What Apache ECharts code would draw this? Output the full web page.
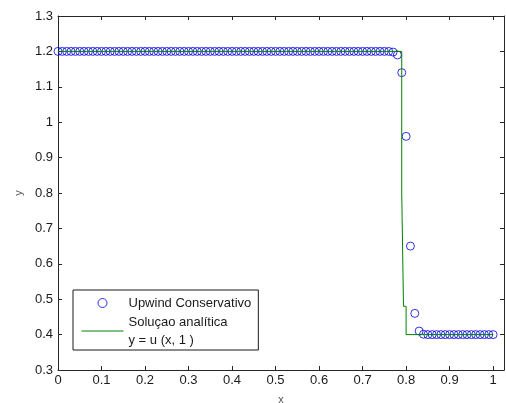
<!DOCTYPE html>
<html>
<head>
<meta charset="utf-8">
<script src="https://cdn.jsdelivr.net/npm/echarts@6/dist/echarts.min.js"></script>
<style>
  html, body { margin: 0; padding: 0; background: #fff; }
  #chart { width: 506px; height: 403px; }
</style>
</head>
<body>
<div id="chart"></div>
<script>
// Upwind conservative scheme vs analytic solution at t = 1.

const upwindX = [
  0, 0.01, 0.02, 0.03, 0.04, 0.05, 0.06, 0.07, 0.08, 0.09,
  0.1, 0.11, 0.12, 0.13, 0.14, 0.15, 0.16, 0.17, 0.18, 0.19,
  0.2, 0.21, 0.22, 0.23, 0.24, 0.25, 0.26, 0.27, 0.28, 0.29,
  0.3, 0.31, 0.32, 0.33, 0.34, 0.35, 0.36, 0.37, 0.38, 0.39,
  0.4, 0.41, 0.42, 0.43, 0.44, 0.45, 0.46, 0.47, 0.48, 0.49,
  0.5, 0.51, 0.52, 0.53, 0.54, 0.55, 0.56, 0.57, 0.58, 0.59,
  0.6, 0.61, 0.62, 0.63, 0.64, 0.65, 0.66, 0.67, 0.68, 0.69,
  0.7, 0.71, 0.72, 0.73, 0.74, 0.75, 0.76, 0.77, 0.78, 0.79,
  0.8, 0.81, 0.82, 0.83, 0.84, 0.85, 0.86, 0.87, 0.88, 0.89,
  0.9, 0.91, 0.92, 0.93, 0.94, 0.95, 0.96, 0.97, 0.98, 0.99,
  1
];
const upwindY = [
  1.2, 1.2, 1.2, 1.2, 1.2, 1.2, 1.2, 1.2, 1.2, 1.2,
  1.2, 1.2, 1.2, 1.2, 1.2, 1.2, 1.2, 1.2, 1.2, 1.2,
  1.2, 1.2, 1.2, 1.2, 1.2, 1.2, 1.2, 1.2, 1.2, 1.2,
  1.2, 1.2, 1.2, 1.2, 1.2, 1.2, 1.2, 1.2, 1.2, 1.2,
  1.2, 1.2, 1.2, 1.2, 1.2, 1.2, 1.2, 1.2, 1.2, 1.2,
  1.2, 1.2, 1.2, 1.2, 1.2, 1.2, 1.2, 1.2, 1.2, 1.2,
  1.2, 1.2, 1.2, 1.2, 1.2, 1.2, 1.2, 1.2, 1.2, 1.2,
  1.2, 1.2, 1.2, 1.2, 1.2, 1.2, 1.2, 1.198, 1.19, 1.14,
  0.96, 0.65, 0.46, 0.41, 0.401, 0.4, 0.4, 0.4, 0.4, 0.4,
  0.4, 0.4, 0.4, 0.4, 0.4, 0.4, 0.4, 0.4, 0.4, 0.4,
  0.4
];

const exactX = [0, 0.79, 0.79, 0.794, 0.794, 0.8, 0.8, 1];
const exactY = [1.2, 1.2, 0.8, 0.8, 0.48, 0.48, 0.4, 0.4];

const xTicks = [0, 1.025, 0.1];   // min, max, interval
const yTicks = [0.3, 1.3, 0.1];

const upwindName = 'Upwind Conservativo';
const exactName = 'Soluçao analítica';
const exactSubtitle = 'y = u (x, 1 )';

const font = 'Liberation Sans, Arial, sans-serif';
const axisColor = '#262626';
const blue = '#0000dd';
const green = '#008000';

function pairs(xs, ys) {
  return xs.map((x, i) => [x, ys[i]]);
}

function boxAxis(ticks, position, showLabels) {
  // MATLAB-style box: all four sides get inward ticks, labels only bottom/left.
  return {
    type: 'value',
    position,
    min: ticks[0],
    max: ticks[1],
    interval: ticks[2],
    splitLine: { show: false },
    axisLine: { show: true, onZero: false, lineStyle: { color: axisColor, width: 1 } },
    axisTick: { show: true, inside: true, length: 4, lineStyle: { color: axisColor } },
    axisLabel: {
      show: showLabels,
      showMaxLabel: ticks[1] !== 1.025,
      color: '#1a1a1a',
      fontFamily: font,
      fontSize: 13,
      margin: 5,
    },
  };
}

const chart = echarts.init(document.getElementById('chart'), null, { renderer: 'canvas' });

const xBottom = Object.assign(boxAxis(xTicks, 'bottom', true), {
  name: 'x',
  nameLocation: 'middle',
  nameGap: 24,
  nameTextStyle: { color: '#555', fontFamily: font, fontSize: 11 },
});
xBottom.axisLabel.margin = 4;
const yLeft = Object.assign(boxAxis(yTicks, 'left', true), {
  name: 'y',
  nameLocation: 'middle',
  nameGap: 32,
  nameRotate: 90,
  nameTextStyle: { color: '#555', fontFamily: font, fontSize: 11 },
});

chart.setOption({
  backgroundColor: '#ffffff',
  animation: false,
  grid: { left: 58, top: 16, right: 2, bottom: 33, containLabel: false, outerBoundsMode: 'none' },
  xAxis: [xBottom, boxAxis(xTicks, 'top', false)],
  yAxis: [yLeft, boxAxis(yTicks, 'right', false)],
  legend: {
    orient: 'vertical',
    left: 73,
    top: 290,
    itemWidth: 42,
    itemHeight: 9,
    itemGap: 1,
    padding: [4, 7, 1, 8],
    backgroundColor: '#ffffff',
    borderColor: '#1a1a1a',
    borderWidth: 1,
    borderRadius: 0,
    selectedMode: false,
    data: [
      { name: upwindName, itemStyle: { borderWidth: 1, borderColor: blue } },
      { name: exactName, itemStyle: { opacity: 0 }, lineStyle: { width: 1, color: green } },
    ],
    formatter: (name) => (name === exactName ? name + '\n' + exactSubtitle : name),
    textStyle: {
      color: '#1a1a1a',
      fontFamily: font,
      fontSize: 13,
      lineHeight: 18,
    },
  },
  series: [
    {
      name: upwindName,
      type: 'scatter',
      data: pairs(upwindX, upwindY),
      symbol: 'circle',
      symbolSize: 8,
      itemStyle: { color: 'rgba(255,255,255,0)', borderColor: blue, borderWidth: 1 },
    },
    {
      name: exactName,
      type: 'line',
      data: pairs(exactX, exactY),
      symbol: 'none',
      lineStyle: { color: green, width: 1 },
      itemStyle: { color: green },
    },
  ],
});
</script>
</body>
</html>
